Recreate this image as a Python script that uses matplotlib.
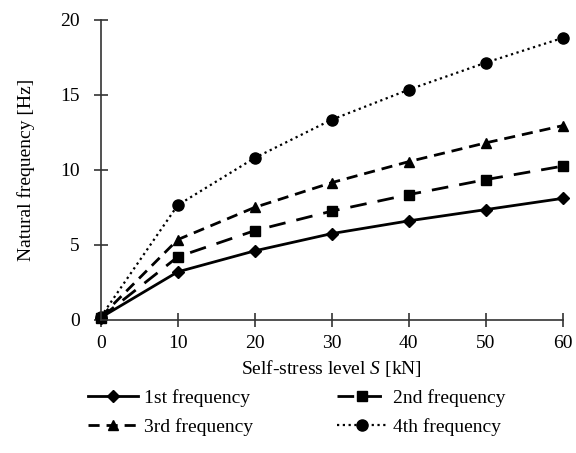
import matplotlib
matplotlib.use("Agg")
import matplotlib.pyplot as plt

# data
stress = [0, 10, 20, 30, 40, 50, 60]
freq1 = [0.15, 3.2, 4.6, 5.75, 6.6, 7.35, 8.1]
freq2 = [0.15, 4.2, 5.95, 7.25, 8.35, 9.35, 10.25]
freq3 = [0.2, 5.35, 7.5, 9.15, 10.55, 11.8, 12.95]
freq4 = [0.2, 7.65, 10.8, 13.35, 15.35, 17.15, 18.8]
labels = ["1st frequency", "2nd frequency", "3rd frequency", "4th frequency"]

plt.rcParams['font.family'] = ['Liberation Serif', 'DejaVu Serif']
plt.rcParams['mathtext.fontset'] = 'custom'
plt.rcParams['mathtext.rm'] = 'Liberation Serif'
plt.rcParams['mathtext.it'] = 'Liberation Serif:italic'

fig = plt.figure(figsize=(5.76, 4.53), dpi=100)
ax = fig.add_axes([0.175, 0.294, 0.802, 0.662])

l1, = ax.plot(stress, freq1, color='black', lw=2, ls='-', marker='D', ms=6, label=labels[0])
l2, = ax.plot(stress, freq2, color='black', lw=2, ls=(0, (6, 4)), marker='s', ms=7, label=labels[1])
l3, = ax.plot(stress, freq3, color='black', lw=2, ls=(0, (4, 2.5)), marker='^', ms=7, label=labels[2])
l4, = ax.plot(stress, freq4, color='black', lw=1.6, ls=(0, (1, 1.6)), marker='o', ms=8, label=labels[3])

ax.set_xlim(0, 60)
ax.set_ylim(0, 20)
ax.set_xticks([0, 10, 20, 30, 40, 50, 60])
ax.set_yticks([0, 5, 10, 15, 20])
ax.spines['top'].set_visible(False)
ax.spines['right'].set_visible(False)
ax.spines['left'].set_linewidth(1.2)
ax.spines['bottom'].set_linewidth(1.2)
ax.spines['left'].set_color('#333333')
ax.spines['bottom'].set_color('#333333')
ax.tick_params(direction='inout', length=10, width=1.2, colors='#333333', labelsize=14, labelcolor='black')
ax.tick_params(axis='x', pad=6)
ax.tick_params(axis='y', pad=10)
for ln in ax.get_lines():
    ln.set_clip_on(False)

ax.set_xlabel('Self-stress level $\\it{S}$ [kN]', fontsize=14, labelpad=4)
ax.set_ylabel('Natural frequency [Hz]', fontsize=14, labelpad=18)

# legend fills row by row in the reference
fig.legend([l1, l3, l2, l4], [labels[0], labels[2], labels[1], labels[3]],
           loc='lower center', bbox_to_anchor=(0.515, 0.0), ncol=2, frameon=False,
           fontsize=14, handlelength=2.6, columnspacing=4.3, labelspacing=0.55,
           handletextpad=0.3)

fig.savefig('out.png', dpi=100)
